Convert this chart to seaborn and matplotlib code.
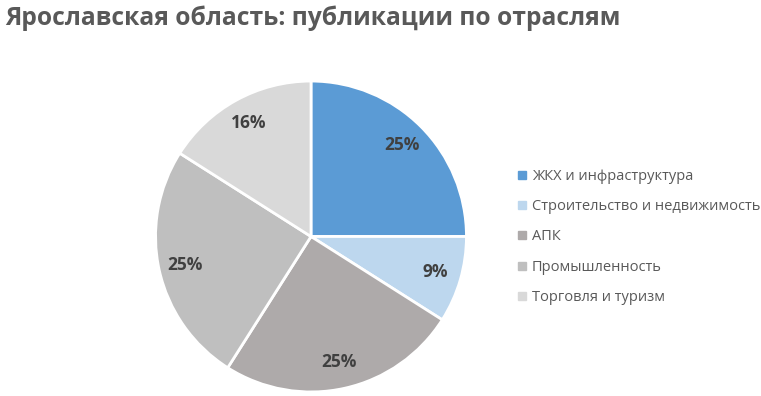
import matplotlib.pyplot as plt
import seaborn as sns
from matplotlib.lines import Line2D

sectors = ["ЖКХ и инфраструктура", "Строительство и недвижимость", "АПК",
           "Промышленность", "Торговля и туризм"]
shares = [25, 9, 25, 25, 16]
colors = ["#5B9BD5", "#BDD7EE", "#AEAAAA", "#BFBFBF", "#D9D9D9"]

sns.set_theme(style="white")
plt.rcParams['font.family'] = ['Open Sans', 'DejaVu Sans']
palette = sns.color_palette(colors)

fig = plt.figure(figsize=(7.61, 3.96), dpi=100)
W, H = 761, 396
cx, cy, r = 311, 236.5, 157
ax = fig.add_axes([(cx - r) / W, (H - cy - r) / H, 2 * r / W, 2 * r / H])

wedges, _, autotexts = ax.pie(
    shares, colors=palette, startangle=90, counterclock=False,
    autopct=lambda p: f"{p:.0f}%", pctdistance=0.83, radius=1,
    wedgeprops=dict(edgecolor="white", linewidth=2),
    textprops=dict(fontsize=12.5, fontweight="bold", color="#404040"))
ax.set_xlim(-1.01, 1.01)
ax.set_ylim(-1.01, 1.01)
ax.set_aspect("equal")

fig.text(5 / W, 1 - 18 / H, "Ярославская область: публикации по отраслям",
         fontsize=17.7, fontweight="bold", color="#595959", va="center", ha="left")

handles = [Line2D([0], [0], marker="s", linestyle="none", markersize=6,
                  markerfacecolor=c, markeredgecolor=c) for c in colors]
leg = fig.legend(handles, sectors, loc="center left", bbox_to_anchor=(516 / W, 1 - 237 / H),
                 frameon=False, fontsize=10.5, labelspacing=1.05, handletextpad=0.3,
                 handlelength=0.8, borderpad=0, borderaxespad=0)
for t in leg.get_texts():
    t.set_color("#595959")

fig.savefig("out.png", dpi=100, facecolor="white")
